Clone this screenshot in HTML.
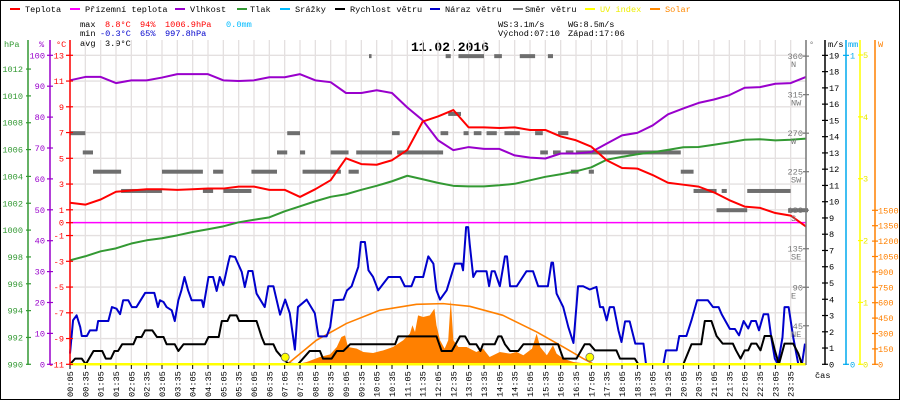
<!DOCTYPE html>
<html><head><meta charset="utf-8"><style>
html,body{margin:0;padding:0;background:#fff}
svg{display:block;font-family:"Liberation Mono",monospace}
</style></head><body>
<svg id="chart" width="900" height="400" viewBox="0 0 900 400" xmlns="http://www.w3.org/2000/svg">
<rect x="0.5" y="0.5" width="899" height="399" fill="#fff" stroke="#000"/>
<g id="legend" font-size="8.6">
 <g><rect x="10" y="8" width="10" height="2" fill="#f00"/><text x="25" y="12">Teplota</text></g>
 <g><rect x="70" y="8" width="10" height="2" fill="#f0f"/><text x="85" y="12">Přízemní teplota</text></g>
 <g><rect x="175" y="8" width="10" height="2" fill="#90c"/><text x="190" y="12">Vlhkost</text></g>
 <g><rect x="237" y="8" width="10" height="2" fill="#393"/><text x="250" y="12">Tlak</text></g>
 <g><rect x="280" y="8" width="10" height="2" fill="#0bf"/><text x="295" y="12">Srážky</text></g>
 <g><rect x="335" y="8" width="10" height="2" fill="#000"/><text x="350" y="12">Rychlost větru</text></g>
 <g><rect x="430" y="8" width="10" height="2" fill="#00c"/><text x="445" y="12">Náraz větru</text></g>
 <g><rect x="513" y="8" width="10" height="2" fill="#777"/><text x="525" y="12">Směr větru</text></g>
 <g><rect x="585" y="8" width="10" height="2" fill="#ff0"/><text x="600" y="12" fill="#ee0">UV index</text></g>
 <g><rect x="650" y="8" width="10" height="2" fill="#f80"/><text x="665" y="12" fill="#f80">Solar</text></g>
</g>
<g font-size="8.6">
 <text x="80" y="27">max</text><text x="105" y="27" fill="#f00">8.8°C</text><text x="140" y="27" fill="#f00">94%</text><text x="165" y="27" fill="#f00">1006.9hPa</text><text x="226" y="27" fill="#0bf">0.0mm</text>
 <text x="80" y="36">min</text><text x="100" y="36" fill="#00c">-0.3°C</text><text x="140" y="36" fill="#00c">65%</text><text x="165" y="36" fill="#00c">997.8hPa</text>
 <text x="80" y="46">avg</text><text x="105" y="46">3.9°C</text>
 <text x="498" y="27">WS:3.1m/s</text><text x="568" y="27">WG:8.5m/s</text>
 <text x="498" y="36">Východ:07:10</text><text x="568" y="36">Západ:17:06</text>
</g>
<text x="450" y="51" text-anchor="middle" font-size="13" font-weight="bold">11.02.2016</text>
<g id="grid"></g>
<g id="marks"></g>
<g id="axes"></g>
</svg>
<script>
// ---- data ----
const tempValues=[1.55,1.4,1.8,2.4,2.5,2.6,2.6,2.55,2.6,2.65,2.65,2.8,2.8,2.55,2.55,2.0,2.6,3.3,5.0,4.55,4.5,4.85,5.65,7.85,8.25,8.75,7.4,7.4,7.35,7.4,7.2,7.2,6.7,6.4,5.9,4.85,4.25,4.2,3.7,3.1,2.95,2.8,2.35,1.75,1.25,1.15,0.75,0.55,-0.3];
const groundTempValues=[0,0,0,0,0,0,0,0,0,0,0,0,0,0,0,0,0,0,0,0,0,0,0,0,0,0,0,0,0,0,0,0,0,0,0,0,0,0,0,0,0,0,0,0,0,0,0,0,0];
const humidityValues=[91.9,93.0,93.0,91.0,91.9,91.9,92.8,93.9,93.9,93.9,91.9,91.7,91.9,92.9,92.9,93.9,91.9,91.3,87.8,87.8,88.7,87.8,83.1,79.0,72.5,69.3,70.3,69.7,69.7,67.6,66.9,66.6,68.2,68.2,68.7,71.4,74.1,74.9,77.3,80.9,82.8,84.6,85.7,87.1,89.5,89.7,90.8,91.0,93.0];
const pressureValues=[997.75,998.05,998.42,998.64,999.0,999.24,999.39,999.61,999.86,1000.06,1000.28,1000.58,1000.77,1000.95,1001.4,1001.77,1002.15,1002.48,1002.67,1003.0,1003.3,1003.64,1004.05,1003.79,1003.52,1003.3,1003.26,1003.26,1003.34,1003.45,1003.71,1003.97,1004.16,1004.38,1004.68,1005.24,1005.46,1005.65,1005.8,1005.98,1006.17,1006.19,1006.36,1006.54,1006.73,1006.77,1006.69,1006.73,1006.82];
const gustTimes=[5,11,18,25,28,38,44,57,60,80,87,96,103,109,119,126,135,152,170,177,181,188,194,204,210,217,223,229,236,243,263,266,276,285,292,298,305,315,318,328,341,347,354,362,370,386,393,403,416,426,435,445,451,468,484,491,507,514,521,540,547,556,569,574,582,589,598,608,628,651,660,673,680,696,706,716,722,729,742,758,771,774,780,784,787,794,800,820,825,830,836,846,856,860,866,879,898,911,921,940,947,950,957,970,980,990,999,1009,1022,1035,1042,1048,1055,1061,1069,1078,1084,1091,1100,1111,1127,1132,1166,1171,1192,1197,1211,1221,1232,1253,1263,1274,1280,1296,1306,1314,1323,1332,1338,1347,1353,1362,1371,1377,1384,1390,1399,1403,1411,1420,1430,1437,1443];
const gustValues=[0.66,2.71,3.01,2.29,1.74,1.74,2.09,2.09,2.66,2.66,3.52,3.42,3.08,3.94,3.94,3.52,3.52,4.39,4.39,3.52,3.94,3.83,3.52,3.32,2.66,3.94,4.55,5.37,4.55,3.94,3.94,3.52,5.37,5.37,4.51,5.37,4.86,6.29,6.66,6.6,5.68,4.75,5.74,5.74,4.35,3.52,4.8,4.8,3.05,3.98,3.14,0.9,3.52,3.98,3.14,1.72,1.72,2.29,3.94,3.98,4.55,4.8,5.99,7.52,7.52,5.78,5.37,4.55,5.37,5.37,4.8,4.8,5.37,5.37,6.64,6.19,4.55,3.98,4.55,6.19,6.19,5.78,8.44,8.44,7.41,5.37,5.72,5.72,4.8,5.72,5.72,4.8,6.64,6.64,4.8,4.8,5.72,5.72,4.8,4.8,6.25,6.25,4.35,3.52,2.29,1.31,4.8,4.8,4.6,4.76,3.52,3.52,2.7,3.52,3.52,2.09,1.37,2.64,2.64,1.27,1.27,0,0,0.86,0.86,1.74,1.74,2.71,3.94,3.94,3.52,3.52,3.08,2.18,2.17,1.78,2.66,2.2,2.66,2.66,2.09,3.08,3.08,1.66,0.35,0,1.66,3.52,3.52,1.66,0,0,1.27];
const windTimes=[5,15,28,36,51,68,75,85,92,99,107,129,135,145,152,166,175,188,194,210,217,227,269,276,296,302,313,318,331,336,370,380,386,403,409,422,432,451,474,494,500,517,527,540,553,641,647,722,732,752,768,778,787,800,808,813,836,843,849,856,866,882,892,960,970,996,1012,1022,1032,1074,1081,1110,1117,1205,1221,1240,1247,1260,1270,1282,1302,1308,1317,1325,1332,1338,1348,1356,1364,1377,1384,1392,1403,1420,1430,1437];
const windValues=[0,0.35,0.35,0,0.82,0.82,0.35,0.35,0.82,0.82,1.23,1.23,1.68,1.68,2.09,2.09,1.68,1.68,1.23,1.23,0.82,1.23,1.23,1.68,1.68,2.66,2.66,3.01,3.01,2.66,2.66,1.68,1.23,1.23,0.82,0.35,0.04,0,0.82,0.82,0.35,0.35,0.82,0.82,1.23,1.23,1.72,1.72,0.82,0.82,1.72,1.72,1.23,1.23,0.82,1.23,1.23,1.72,1.72,1.23,0.82,0.82,1.23,1.23,0.35,0.35,1.23,1.23,0.86,0.86,0.35,0.35,0,0,1.23,1.23,2.66,2.66,1.74,1.27,1.27,0.86,0.35,0.86,0.86,1.27,1.27,0.86,1.74,1.74,0.86,0,1.27,1.27,0.66,0];
const dirStart=[5,30,50,105,185,265,285,305,360,410,430,455,460,515,550,565,590,635,645,730,740,745,765,775,795,820,835,855,885,915,925,940,950,960,975,985,995,1020,1200,1225,1270,1280,1330,1410];
const dirEnd=[35,50,105,185,265,285,305,360,410,430,455,465,535,550,570,635,595,650,735,745,750,770,815,785,810,840,850,885,915,930,940,950,965,980,990,1000,1200,1030,1225,1270,1330,1290,1415,1450];
const dirValues=[270,247.5,225,202.5,225,202.5,225,202.5,225,247.5,270,247.5,225,247.5,225,247.5,360,270,247.5,270,360,292.5,360,270,270,270,360,270,360,270,247.5,360,247.5,270,247.5,225,247.5,225,225,202.5,180,202.5,202.5,180];
const solarTimes=[448,468,494,514,527,536,543,549,566,579,598,618,637,657,670,675,680,686,696,709,718,722,729,738,745,750,755,765,781,800,813,826,846,866,879,892,909,918,925,938,950,957,970,990,1009,1029];
const solarValues=[0,23,71,97,169,266,282,169,153,120,110,136,169,234,299,380,315,477,461,477,542,380,234,153,234,630,234,169,169,120,153,71,120,104,120,88,153,299,169,88,185,104,55,23,10,0];
const solarMaxTimes=[430,487,546,611,683,735,787,852,918,970,1009,1030];
const solarMaxValues=[0,234,398,526,584,591,565,477,315,169,56,0];
const uvTimes=[430,1026];
const uvValues=[0.05,0.05];
const timeLabels=["00:05","00:35","01:05","01:35","02:05","02:35","03:05","03:35","04:05","04:35","05:05","05:35","06:05","06:35","07:05","07:35","08:05","08:35","09:05","09:35","10:05","10:35","11:05","11:35","12:05","12:35","13:05","13:35","14:05","14:35","15:05","15:35","16:05","16:35","17:05","17:35","18:05","18:35","19:05","19:35","20:05","20:35","21:05","21:35","22:05","22:35","23:05","23:35"];
const tempTicks=[13,11,9,7,5,3,1,0,-1,-3,-5,-7,-9,-11];
const pressTicks=[990,992,994,996,998,1000,1002,1004,1006,1008,1010,1012];
const humTicks=[0,10,20,30,40,50,60,70,80,90,100];
const dirTicks=[45,90,135,180,225,270,315,360];
const dirNames=["NE","E","SE","S","SW","W","NW","N"];
const windTicks=[0,1,2,3,4,5,6,7,8,9,10,11,12,13,14,15,16,17,18,19];
const uvTicks=[0,1,2,3,4,5];
const solarTicks=[0,150,300,450,600,750,900,1050,1200,1350,1500];

// ---- scales ----
const X0=70,X1=806,YB=364.3;
const xMin=m=>X0+(m-5)*0.51111;
const yT=t=>YB-(t+11)*12.875;
const yH=h=>YB-h*3.09;
const yP=p=>YB-(p-990)*13.42;
const yW=w=>YB-w*16.26;
const yD=d=>YB-d*0.856;
const yS=s=>YB-s*154/1500;
const yU=u=>YB-u*61.86;
const halfHour=i=>5+30*i;

const NS="http://www.w3.org/2000/svg";
function mk(parent,tag,attrs){const e=document.createElementNS(NS,tag);for(const k in attrs)e.setAttribute(k,attrs[k]);parent.appendChild(e);return e;}
const grid=document.getElementById('grid'),marks=document.getElementById('marks'),axes=document.getElementById('axes');

// grid
timeLabels.forEach((lab,i)=>{const x=xMin(halfHour(i));
 const l=mk(grid,'line',{x1:x,x2:x,y1:40,y2:364,stroke:'#e4e0e0','stroke-width':1.3});
 
 
});
tempTicks.forEach(t=>{if(t===0)return;const y=yT(t);
 const l=mk(grid,'line',{x1:X0,x2:X1,y1:y,y2:y,stroke:'#e4e0e0','stroke-width':1.3});
 
 
});

// wind direction dashes
dirValues.forEach((d,i)=>{
 const x1=xMin(dirStart[i]),x2=Math.min(xMin(dirEnd[i]),808);
 const r=mk(marks,'rect',{x:x1,y:yD(d)-2,width:x2-x1,height:4,fill:'#6e6e6e'});
 
 
});

// solar area
{let d='M'+xMin(solarTimes[0])+','+YB;solarTimes.forEach((t,i)=>{d+=' L'+xMin(t)+','+yS(solarValues[i]);});d+=' L'+xMin(solarTimes[solarTimes.length-1])+','+YB+' Z';
 const p=mk(marks,'path',{d:d,fill:'#ff8000'});
 
 }
// solar theoretical curve
function poly(times,vals,yf,color,w,name){
 const pts=times.map((t,i)=>xMin(t)+','+yf(vals[i])).join(' ');
 const p=mk(marks,'polyline',{points:pts,fill:'none',stroke:color,'stroke-width':w,'stroke-linejoin':'round'});
 return p;
}
{const p=poly(solarMaxTimes,solarMaxValues,yS,'#ff8000',1.6);
 
 }
const hh=tempValues.map((v,i)=>halfHour(i));
{const p=poly(hh,groundTempValues,yT,'#ff00ff',1.5);
 
 }
{const p=poly(hh,pressureValues,yP,'#339933',2);
 
 }
{const p=poly(hh,humidityValues,yH,'#9900cc',2);
 
 }
{const p=poly(hh,tempValues,yT,'#ff0000',2);
 
 }
{const p=poly(gustTimes,gustValues,yW,'#0000cc',2);
 
 }
{const p=poly(windTimes,windValues,yW,'#000000',2);
 
 }
// UV baseline and markers
{const l=mk(marks,'line',{x1:X0,x2:X1,y1:YB,y2:YB,stroke:'#ffff00','stroke-width':2.5});
 
 }
uvTimes.forEach((t,i)=>{const c=mk(marks,'circle',{cx:xMin(t)-2,cy:yU(uvValues[i])-4,r:4,fill:'#ffff00',stroke:'#666','stroke-width':0.8});
 
 });

// ---- axes ----
function axisLine(x,color,name,y1){const l=mk(axes,'line',{x1:x,x2:x,y1:y1||40,y2:365,stroke:color,'stroke-width':1.5});
 return l;}
function txt(x,y,s,color,anchor,name){const t=mk(axes,'text',{x:x,y:y,fill:color,'font-size':8.6,'text-anchor':anchor||'start'});t.textContent=s;return t;}
{const l=axisLine(28,'#339933');}
{const l=axisLine(50,'#9900cc');}
{const l=axisLine(70,'#ff0000');}
{const l=axisLine(806,'#777777');}
{const l=axisLine(825,'#000000');}
{const l=axisLine(846,'#00aaee');}
{const l=axisLine(860,'#ffff00');}
{const l=axisLine(875,'#ff8000');}
{const t=txt(4,47,'hPa','#339933');}
{const t=txt(39,47,'%','#9900cc');}
{const t=txt(56,47,'°C','#ff0000');}
{const t=txt(809,47,'°','#777');}
{const t=txt(828,47,'m/s','#000');}
{const t=txt(848,47,'mm','#00aaee');}
{const t=txt(878,47,'W','#ff8000');}
{const t=txt(815,378,'čas','#000');}

function tick(x1,x2,y,c){mk(axes,'line',{x1:x1,x2:x2,y1:y,y2:y,stroke:c,'stroke-width':1.2});}
pressTicks.forEach(p=>{const y=yP(p);tick(26,31,y,'#339933');
 const t=txt(23,y+3,String(p),'#339933','end');});
humTicks.forEach(h=>{const y=yH(h);tick(47,53,y,'#9900cc');
 const t=txt(45,y+3,String(h),'#9900cc','end');});
tempTicks.forEach(v=>{const y=yT(v);tick(66,73,y,'#ff0000');
 const t=txt(64,y+3,String(v),'#ff0000','end');});
dirTicks.forEach((d,i)=>{const y=yD(d);tick(803,809,y,'#777');
 const t=txt(803,y+3,String(d),'#777','end');
 const n=txt(791,y+11,dirNames[i],'#777','start');});
windTicks.forEach(w=>{const y=yW(w);tick(822,828,y,'#000');
 const t=txt(829,y+3,String(w),'#000');});
[0,1].forEach(v=>{const y=v?yW(19):YB;tick(843,849,y,'#00aaee');
 const t=txt(850,y+3,String(v),'#00aaee');});
uvTicks.forEach(u=>{const y=yU(u);tick(858,863,y,'#ffff00');
 const t=txt(863,y+3,String(u),'#e8e800');});
solarTicks.forEach(s=>{const y=yS(s);tick(872,878,y,'#ff8000');
 const t=txt(878,y+3,String(s),'#ff8000');});
timeLabels.forEach((lab,i)=>{const x=xMin(halfHour(i));
 mk(axes,'line',{x1:x,x2:x,y1:365,y2:369,stroke:'#000','stroke-width':1});
 const t=mk(axes,'text',{x:0,y:0,'font-size':8.6,fill:'#000',transform:'translate('+(x+3)+',397) rotate(-90)'});
 t.textContent=lab;
 
 });
</script>
</body></html>
